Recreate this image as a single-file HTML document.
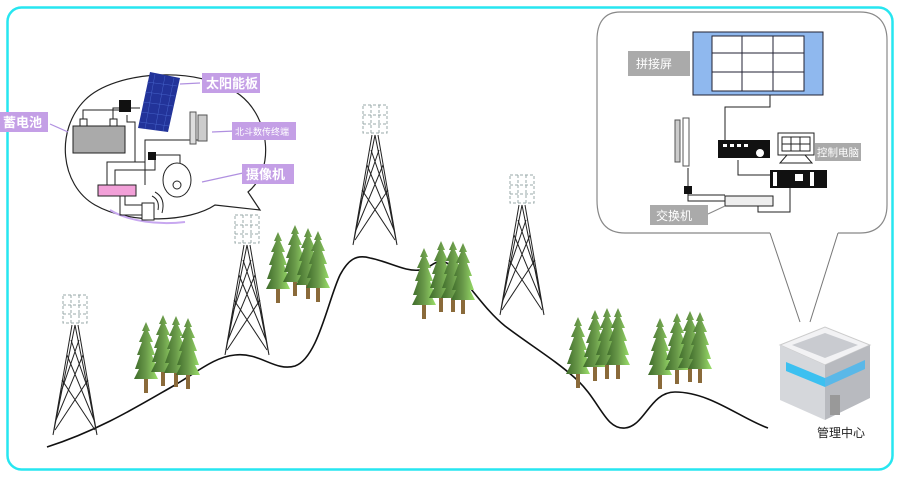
<!DOCTYPE html>
<html><head><meta charset="utf-8"><style>
html,body{margin:0;padding:0;background:#fff;}
svg{display:block}
text{font-family:"Liberation Sans","Noto Sans CJK SC",sans-serif;}
</style></head><body>
<svg width="900" height="481" viewBox="0 0 900 481" xmlns="http://www.w3.org/2000/svg">
<defs>
<linearGradient id="tg" x1="0" x2="1" y1="0" y2="0">
<stop offset="0" stop-color="#3e6b2a"/><stop offset="0.5" stop-color="#6a9a4a"/><stop offset="1" stop-color="#9be06a"/></linearGradient>
<g id="tree">
<rect x="-2" y="0" width="4" height="16" fill="#8a6a3a"/>
<path d="M0,-55 L-4,-46 L-2,-46 L-7,-35 L-4,-35 L-9,-22 L-6,-22 L-11,-8 L-7,-8 L-12,2 L12,2 L7,-8 L11,-8 L6,-22 L9,-22 L4,-35 L7,-35 L2,-46 L4,-46 Z" fill="url(#tg)"/>
</g>
<g id="tower" fill="none" stroke="#222" stroke-width="1">
<path d="M0,0 L-22,110 M0,0 L22,110 M-3,0 L-22,110 M3,0 L22,110"/>
<path d="M-4,15 L15,70 M4,15 L-15,70 M-13,55 L20,105 M13,55 L-20,105 M-8,30 L19,95 M8,30 L-19,95"/>
<g stroke="#9aa" stroke-dasharray="3,2"><rect x="-12" y="-30" width="24" height="28"/><path d="M-4,-30 V-2 M4,-30 V-2 M-12,-20 H12 M-12,-11 H12"/></g>
</g>
</defs>
<rect x="7.5" y="7.5" width="885" height="462" rx="14" fill="none" stroke="#27e6f0" stroke-width="2.5"/>

<path d="M47,447 C100,430 140,405 175,385 C200,370 215,357 235,355 C260,352 275,372 295,366 C318,358 328,300 340,275 C348,260 356,254 370,258 C390,262 405,272 420,270 C433,268 437,255 450,265 C470,285 485,310 505,326 C530,345 555,360 575,378 C600,400 605,430 625,428 C645,426 650,392 675,392 C710,392 740,418 768,428" fill="none" stroke="#111" stroke-width="1.6"/>

<use href="#tower" x="75" y="325"/>
<use href="#tower" x="247" y="245"/>
<use href="#tower" x="375" y="135"/>
<use href="#tower" x="522" y="205"/>

<use href="#tree" x="146" y="377"/>
<use href="#tree" x="163" y="370"/>
<use href="#tree" x="176" y="371"/>
<use href="#tree" x="188" y="373"/>
<use href="#tree" x="278" y="287"/>
<use href="#tree" x="295" y="280"/>
<use href="#tree" x="308" y="283"/>
<use href="#tree" x="318" y="286"/>
<use href="#tree" x="424" y="303"/>
<use href="#tree" x="441" y="296"/>
<use href="#tree" x="453" y="296"/>
<use href="#tree" x="463" y="298"/>
<use href="#tree" x="578" y="372"/>
<use href="#tree" x="595" y="365"/>
<use href="#tree" x="607" y="363"/>
<use href="#tree" x="618" y="363"/>
<use href="#tree" x="660" y="373"/>
<use href="#tree" x="677" y="368"/>
<use href="#tree" x="690" y="366"/>
<use href="#tree" x="700" y="367"/>

<!-- left bubble -->
<path d="M215,205 C190,222 130,225 95,205 C60,185 55,130 85,100 C115,70 200,65 240,95 C270,118 275,170 248,192 L260,210 Z" fill="#fff" stroke="#222" stroke-width="1.2"/>
<path d="M110,210 C130,222 160,225 185,222" stroke="#c8a8f0" stroke-width="2" fill="none"/>
<polygon points="150,72 180,78 168,132 138,128" fill="#223399"/>
<g stroke="#5577dd" stroke-width="0.5" opacity="0.7"><path d="M147,82 L177,86 M145,92 L175,96 M143,102 L173,106 M141,112 L171,116 M140,122 L169,126 M155,74 L145,129 M165,76 L155,130 M174,78 L163,131"/></g>
<rect x="73" y="126" width="52" height="27" fill="#aaa" stroke="#222"/>
<rect x="80" y="119" width="7" height="7" fill="#fff" stroke="#222"/><rect x="110" y="119" width="7" height="7" fill="#fff" stroke="#222"/>
<g fill="none" stroke="#222" stroke-width="1">
<path d="M83,119 V110 H120 M113,119 V108 H120 M131,108 H140"/>
<path d="M127,115 V122 H135 V162 M145,185 V140 H200 V133"/>
<path d="M107,185 V162 H145 M115,185 V170 H155 V155 H180 V165"/>
<path d="M120,196 V215 H145 M125,196 V205 H142"/>
</g>
<rect x="119" y="100" width="12" height="12" fill="#111"/>
<rect x="148" y="152" width="8" height="8" fill="#111"/>
<rect x="98" y="185" width="38" height="11" fill="#f2a0d8" stroke="#222"/>
<ellipse cx="177" cy="180" rx="14" ry="17" fill="#fff" stroke="#222"/>
<circle cx="177" cy="185" r="4" fill="#fff" stroke="#222"/>
<rect x="142" y="203" width="12" height="17" fill="#fff" stroke="#222"/>
<path d="M152,196 Q160,200 158,210 M155,192 Q166,198 162,213" fill="none" stroke="#222"/>
<rect x="190" y="112" width="6" height="32" fill="#ddd" stroke="#555"/>
<rect x="198" y="115" width="9" height="26" fill="#ccc" stroke="#555"/>
<g stroke="#b090e0" stroke-width="1.2" fill="none"><path d="M180,84 L200,83 M50,124 L68,132 M212,132 L235,131 M202,182 L243,173"/></g>
<rect x="202" y="73" width="58" height="20" fill="#c49fe6"/><text x="206" y="88" font-size="13" fill="#fff" font-weight="bold">太阳能板</text>
<rect x="0" y="112" width="48" height="20" fill="#c49fe6"/><text x="3" y="127" font-size="13" fill="#fff" font-weight="bold">蓄电池</text>
<rect x="232" y="122" width="64" height="18" fill="#c49fe6"/><text x="235" y="135" font-size="9" fill="#fff">北斗数传终端</text>
<rect x="242" y="164" width="52" height="20" fill="#c49fe6"/><text x="246" y="179" font-size="13" fill="#fff" font-weight="bold">摄像机</text>

<!-- right bubble -->
<path d="M770,233 L800,322 M838,233 L810,322" stroke="#777" stroke-width="1" fill="none"/>
<path d="M838,233 H860 C875,233 887,225 887,205 V40 C887,25 880,12 860,12 H620 C605,12 597,22 597,40 V200 C597,220 605,233 625,233 H770" fill="none" stroke="#888" stroke-width="1.2"/>
<rect x="693" y="32" width="130" height="63" fill="#8fb8ee" stroke="#223"/>
<rect x="712" y="36" width="92" height="55" fill="#fff" stroke="#223"/>
<path d="M742,36 V91 M773,36 V91 M712,53 H804 M712,72 H804" stroke="#223"/>
<rect x="628" y="51" width="62" height="25" fill="#aaa"/><text x="636" y="68" font-size="12" fill="#fff">拼接屏</text>
<g fill="none" stroke="#222"><path d="M770,95 V107 H725 V142 M738,160 V175 H770 M790,188 V212 H758 V203 M688,168 V195 H725"/></g>
<rect x="718" y="140" width="52" height="18" fill="#111"/>
<g fill="#fff"><rect x="723" y="144" width="4" height="3"/><rect x="730" y="144" width="4" height="3"/><rect x="737" y="144" width="4" height="3"/><rect x="744" y="144" width="4" height="3"/><circle cx="760" cy="153" r="4"/></g>
<rect x="778" y="133" width="36" height="22" fill="#fff" stroke="#222"/>
<path d="M782,137 H810 V151 H782 Z M791,137 V151 M800,137 V151 M782,144 H810" fill="none" stroke="#222"/>
<polygon points="787,155 805,155 812,163 780,163" fill="#fff" stroke="#222"/>
<rect x="770" y="170" width="57" height="18" fill="#111"/><rect x="773" y="172" width="4" height="14" fill="#fff"/><rect x="810" y="172" width="4" height="14" fill="#fff"/><rect x="795" y="174" width="8" height="7" fill="#fff"/>
<rect x="815" y="143" width="46" height="18" fill="#aaa"/><text x="817" y="156" font-size="10.5" fill="#fff">控制电脑</text>
<rect x="675" y="120" width="5" height="42" fill="#ccc" stroke="#555"/><rect x="683" y="118" width="6" height="48" fill="#fff" stroke="#555"/>
<rect x="684" y="186" width="8" height="8" fill="#111"/>
<path d="M688,194 V201 H725" fill="none" stroke="#222"/>
<rect x="725" y="196" width="48" height="10" fill="#eee" stroke="#222"/>
<rect x="650" y="205" width="58" height="20" fill="#aaa"/><text x="656" y="220" font-size="12" fill="#fff">交换机</text>
<path d="M708,214 L725,206" stroke="#888"/>

<!-- building -->
<polygon points="780,345 825,327 870,345 825,365" fill="#f2f2f4" stroke="#ccc"/>
<polygon points="792,345 825,333 858,345 825,358" fill="#c9cbd0"/>
<polygon points="780,345 825,365 825,420 780,400" fill="#d5d7db"/>
<polygon points="825,365 870,345 870,398 825,420" fill="#b8babf"/>
<polygon points="786,362 825,378 825,387 786,371" fill="#3cc0f0"/>
<polygon points="825,378 865,360 865,369 825,387" fill="#5ab8e8"/>
<rect x="830" y="395" width="10" height="20" fill="#999"/>
<text x="817" y="437" font-size="12" fill="#222">管理中心</text>
</svg>
</body></html>
